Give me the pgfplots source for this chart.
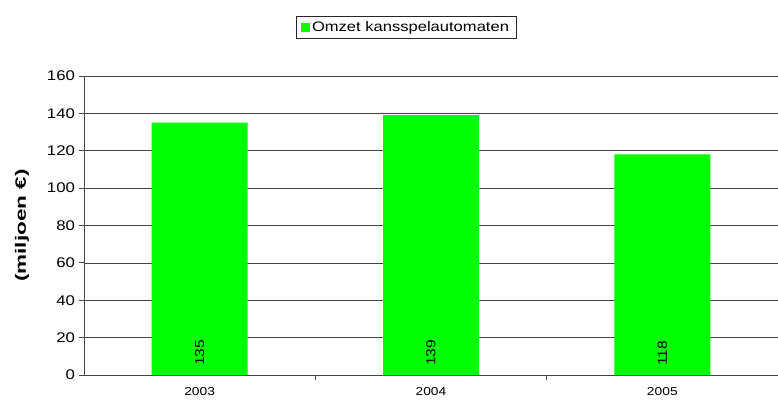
\documentclass[border=0pt]{standalone}
\usepackage{pgfplots}
\pgfplotsset{compat=1.18}
\usepackage{fontspec}
\setmainfont{Liberation Sans}[FakeStretch=1.2]
\definecolor{barg}{RGB}{0,255,0}
\definecolor{gridc}{RGB}{70,70,70}
\begin{document}
\begin{tikzpicture}
\useasboundingbox (-84pt,-34pt) rectangle (694pt,375pt);
\begin{axis}[
  at={(0pt,0pt)}, anchor=south west,
  scale only axis, width=694pt, height=299pt,
  xmin=-0.5, xmax=2.5, ymin=0, ymax=160,
  ytick={0,20,...,160},
  ymajorgrids, grid style={gridc, line width=0.7pt},
  axis x line*=bottom, axis y line*=left,
  axis line style={-, gridc, line width=0.9pt},
  xtick={0.5,1.5}, xticklabels={},
  extra x ticks={0,1,2}, extra x tick labels={2003,2004,2005},
  extra x tick style={major tick length=0pt, grid=none},
  tick align=outside, major tick length=4.5pt,
  tick style={gridc, line width=0.8pt},
  /pgf/number format/assume math mode=true,
  yticklabel style={font=\fontsize{14}{16}\selectfont, xshift=-1pt},
  xticklabel style={font=\fontsize{11.5}{13}\selectfont, yshift=-9pt},
  every axis y label/.style={at={(axis description cs:-0.0893,0.5)}, rotate=90, anchor=center},
  ylabel={\fontsize{15}{17}\selectfont\bfseries\scalebox{1.25}[1]{(miljoen €)}},
  legend style={at={(axis description cs:0.464,1.162)}, anchor=center,
    draw=black!85, line width=0.8pt, font=\fontsize{13.8}{16}\selectfont,
    inner xsep=5pt, inner ysep=3pt},
  legend image code/.code={\fill[barg] (0pt,-4.5pt) rectangle (9pt,4.5pt);},
]
\addplot[ybar, bar width=96pt, fill=barg, draw=none] coordinates {(0,135) (1,139) (2,118)};
\addlegendentry{Omzet kansspelautomaten}
\addplot[draw=none, mark=none, forget plot, nodes near coords, point meta=explicit symbolic,
  every node near coord/.style={rotate=90, anchor=west, inner sep=0pt, font=\fontsize{13}{15}\selectfont}]
  coordinates {(0,4.8) [135] (1,4.8) [139] (2,4.8) [118]};
\end{axis}
\end{tikzpicture}
\end{document}
